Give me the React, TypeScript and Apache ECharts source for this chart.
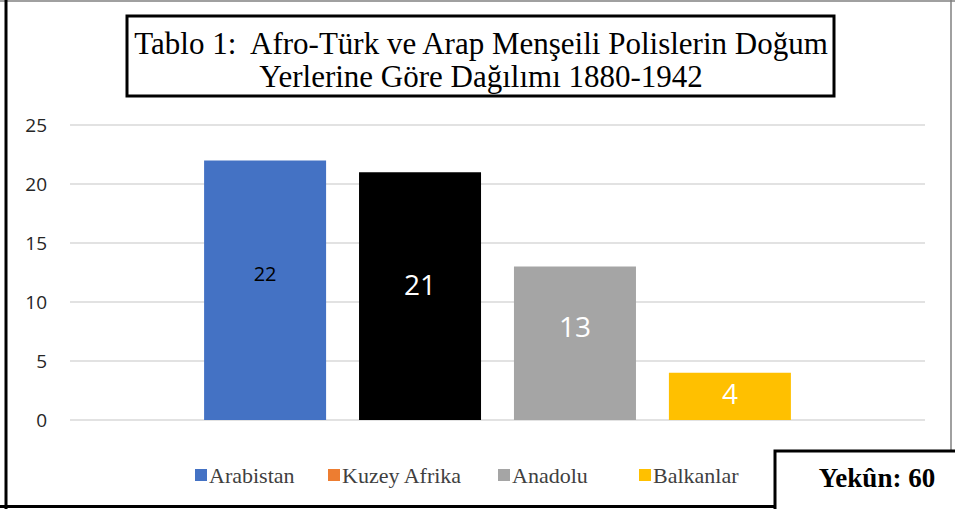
import React, { useEffect, useRef } from "react";
import * as echarts from "echarts";

const seriesNames = ["Arabistan", "Kuzey Afrika", "Anadolu", "Balkanlar"];
const seriesValues = [22, 21, 13, 4];
const barColors = ["#4472C4", "#000000", "#A5A5A5", "#FFC000"];
const legendColors = ["#4472C4", "#ED7D31", "#A5A5A5", "#FFC000"];
const labelColors = ["#000000", "#FFFFFF", "#FFFFFF", "#FFFFFF"];
const labelSizes = [20, 28, 28, 28];
const labelOffsets = [-17, -12, -17.5, -3.5];
const legendLefts = [190, 323, 493, 634];
const yTicks = [0, 5, 10, 15, 20, 25];
const titleLines = ["Tablo 1:  Afro-Türk ve Arap Menşeili Polislerin Doğum", "Yerlerine Göre Dağılımı 1880-1942"];
const totalText = "Yekûn: 60";

export default function App() {
  const ref = useRef<HTMLDivElement>(null);
  useEffect(() => {
    document.body.style.margin = "0";
    const chart = echarts.init(ref.current!, null, { renderer: "svg" });
    const serif = "'Liberation Serif', 'DejaVu Serif', serif";
    const sans = "'Open Sans', 'Noto Sans', sans-serif";
    const option: any = {
      animation: false,
      backgroundColor: "#ffffff",
      grid: { left: 70, right: 30, top: 125, bottom: 89, containLabel: false },
      xAxis: {
        type: "category",
        data: [""],
        axisLine: { show: false },
        axisTick: { show: false },
        axisLabel: { show: false },
      },
      yAxis: {
        type: "value",
        min: yTicks[0],
        max: yTicks[yTicks.length - 1],
        interval: 5,
        axisLine: { show: false },
        axisTick: { show: false },
        axisLabel: {
          color: "#262626",
          fontSize: 19,
          fontFamily: sans,
          margin: 23,
        },
        splitLine: { lineStyle: { color: "#D9D9D9", width: 1.5 } },
      },
      legend: seriesNames.map((n, i) => ({
        left: legendLefts[i],
        top: 459,
        itemWidth: 12,
        itemHeight: 12,
        icon: "rect",
        itemGap: 6,
        textStyle: { fontFamily: serif, fontSize: 22, color: "#404040", padding: [0, 0, 0, -3] },
        data: [{ name: n, itemStyle: { color: legendColors[i] } }],
      })),
      series: seriesNames.map((n, i) => ({
        name: n,
        type: "bar",
        data: [seriesValues[i]],
        barWidth: 122,
        barGap: "27%",
        itemStyle: { color: barColors[i] },
        label: {
          show: true,
          position: "inside",
          offset: [0, labelOffsets[i]],
          color: labelColors[i],
          fontSize: labelSizes[i],
          fontFamily: sans,
        },
      })),
      graphic: [
        { type: "line", shape: { x1: 0, y1: 1, x2: 955, y2: 1 }, style: { stroke: "#808080", lineWidth: 1.5 } },
        { type: "line", shape: { x1: 951, y1: 0, x2: 951, y2: 509 }, style: { stroke: "#808080", lineWidth: 1.5 } },
        { type: "line", shape: { x1: 6, y1: 0, x2: 6, y2: 509 }, style: { stroke: "#000000", lineWidth: 3 } },
        { type: "line", shape: { x1: 0, y1: 506.5, x2: 955, y2: 506.5 }, style: { stroke: "#000000", lineWidth: 3 } },
        {
          type: "rect",
          shape: { x: 127, y: 16, width: 707, height: 80 },
          style: { fill: "#ffffff", stroke: "#000000", lineWidth: 3 },
        },
        {
          type: "text",
          x: 481,
          y: 60,
          style: {
            text: titleLines.join("\n"),
            align: "center",
            verticalAlign: "middle",
            fontFamily: serif,
            fontSize: 31,
            lineHeight: 33,
            fill: "#000000",
          },
        },
        {
          type: "rect",
          shape: { x: 775, y: 451, width: 185, height: 70 },
          style: { fill: "#ffffff", stroke: "#000000", lineWidth: 3 },
        },
        {
          type: "text",
          x: 877,
          y: 478,
          style: {
            text: totalText,
            align: "center",
            verticalAlign: "middle",
            fontFamily: serif,
            fontSize: 27,
            fontWeight: "bold",
            fill: "#000000",
          },
        },
      ],
    };
    chart.setOption(option);
    return () => chart.dispose();
  }, []);
  return <div ref={ref} style={{ position: "fixed", left: 0, top: 0, width: 955, height: 509 }} />;
}
